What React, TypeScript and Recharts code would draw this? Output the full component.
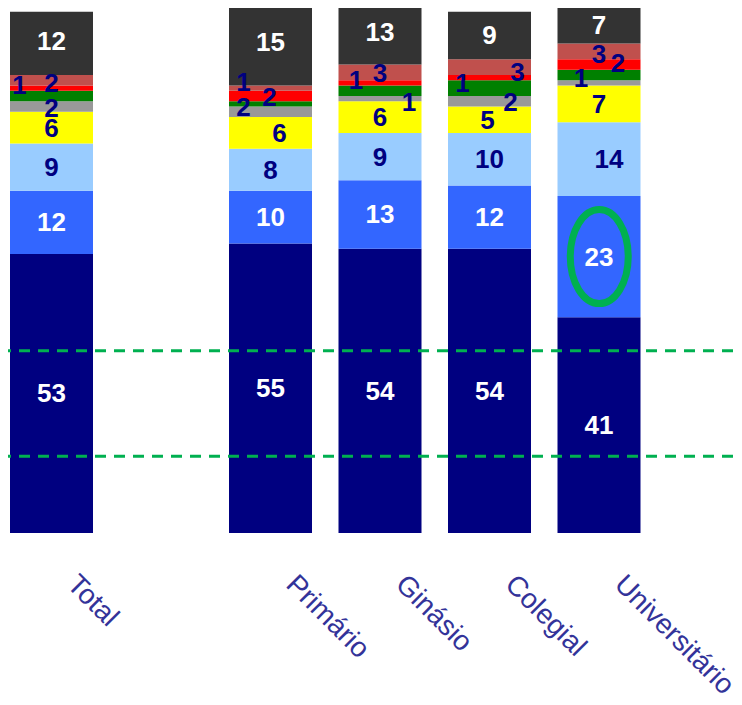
import { Bar, BarChart, LabelList, ReferenceDot, ReferenceLine, XAxis, YAxis } from "recharts";

const categories = ["Total", "", "Primário", "Ginásio", "Colegial", "Universitário"];

// bottom to top of each stack
const navy = [53, null, 55, 54, 54, 41];
const blue = [12, null, 10, 13, 12, 23];
const lightBlue = [9, null, 8, 9, 10, 14];
const yellow = [6, null, 6, 6, 5, 7];
const gray = [2, null, 2, 1, 2, 1];
const green = [2, null, 1, 2, 3, 2];
const red = [1, null, 2, 1, 1, 2];
const rosy = [2, null, 1, 3, 3, 3];
const dark = [12, null, 15, 13, 9, 7];

const bands = [34.6, 14.6];

const series = [
  { key: "navy", values: navy, fill: "#000080", text: "#ffffff", label: true },
  { key: "blue", values: blue, fill: "#3366ff", text: "#ffffff", label: true },
  { key: "lightBlue", values: lightBlue, fill: "#99ccff", text: "#000080", label: true },
  { key: "yellow", values: yellow, fill: "#ffff00", text: "#000080", label: true },
  { key: "gray", values: gray, fill: "#999999", text: "#000080", label: true },
  { key: "green", values: green, fill: "#008000", text: "#000080", label: false },
  { key: "red", values: red, fill: "#ff0000", text: "#000080", label: true },
  { key: "rosy", values: rosy, fill: "#c0504d", text: "#000080", label: true },
  { key: "dark", values: dark, fill: "#333333", text: "#ffffff", label: true },
];

const data = categories.map((name, i) => {
  const row: Record<string, any> = { name };
  series.forEach((s) => (row[s.key] = s.values[i]));
  return row;
});

// small labels were moved by hand in the original slide
const nudges: Record<string, [number, number]> = {
  "red|Total": [-32, -3],
  "rosy|Total": [0, 3],
  "gray|Total": [0, 1],
  "dark|Total": [0, -2],
  "rosy|Primário": [-27, -6],
  "red|Primário": [-1, 1],
  "gray|Primário": [-27, -5],
  "yellow|Primário": [9, 0],
  "dark|Primário": [0, -4],
  "red|Ginásio": [-24, -3],
  "rosy|Ginásio": [0, 1],
  "gray|Ginásio": [29, 3],
  "dark|Ginásio": [0, 2],
  "red|Colegial": [-27, 5],
  "rosy|Colegial": [28, 5],
  "gray|Colegial": [21, 1],
  "yellow|Colegial": [-2, 0],
  "rosy|Universitário": [0, 3],
  "red|Universitário": [19, -1],
  "gray|Universitário": [-18, -5],
  "lightBlue|Universitário": [10, 0],
};

const FONT = "'Liberation Sans', Arial, sans-serif";

function makeLabel(key: string, color: string) {
  return (props: any) => {
    const { x, y, width, height, value } = props;
    const [cat, num] = String(value).split("|");
    if (!num || num === "null" || num === "undefined") return null;
    const [dx, dy] = nudges[`${key}|${cat}`] || [0, 0];
    return (
      <text
        x={Number(x) + Number(width) / 2 + dx}
        y={Number(y) + Number(height) / 2 + dy}
        textAnchor="middle"
        dominantBaseline="central"
        fontFamily={FONT}
        fontWeight="bold"
        fontSize={26}
        fill={color}
      >
        {num}
      </text>
    );
  };
}

function CategoryTick({ x, y, payload }: any) {
  if (!payload.value) return null;
  const tx = x + 14;
  const ty = y + 53;
  return (
    <text
      x={tx}
      y={ty}
      transform={`rotate(45, ${tx}, ${ty})`}
      textAnchor="start"
      fontFamily={FONT}
      fontSize={28}
      fill="#333399"
    >
      {payload.value}
    </text>
  );
}

export default function App() {
  return (
    <div style={{ margin: "-12px 0 0 -8px", width: 742, height: 709 }}>
      <BarChart width={742} height={709} data={data} margin={{ top: 0, right: 0, bottom: 0, left: 0 }}>
        <XAxis
          dataKey="name"
          height={172}
          axisLine={false}
          tickLine={false}
          tickSize={0}
          tickMargin={0}
          interval={0}
          padding={{ left: -3, right: 88 }}
          tick={<CategoryTick />}
        />
        <XAxis xAxisId="lbl" dataKey="name" hide padding={{ left: -3, right: 88 }} />
        <YAxis hide type="number" domain={[0, 102]} />
        {series.map((s) => (
          <Bar key={s.key} dataKey={s.key} stackId="a" fill={s.fill} barSize={83} isAnimationActive={false} />
        ))}
        {series.map((s) => (
          <Bar
            key={`${s.key}-lbl`}
            dataKey={s.key}
            stackId="lbl"
            xAxisId="lbl"
            fill="transparent"
            barSize={83}
            isAnimationActive={false}
          >
            {s.label && (
              <LabelList
                dataKey={(d: any) => `${d.name}|${d[s.key]}`}
                content={makeLabel(s.key, s.text)}
              />
            )}
          </Bar>
        ))}
        {bands.map((v) => (
          <ReferenceLine key={v} y={v} stroke="#00b050" strokeWidth={3} strokeDasharray="11 8" />
        ))}
        <ReferenceDot
          x="Universitário"
          y={41 + 23 / 2}
          r={1}
          shape={(p: any) => (
            <ellipse cx={p.cx} cy={p.cy} rx={29} ry={47} fill="none" stroke="#00b050" strokeWidth={7} />
          )}
        />
      </BarChart>
    </div>
  );
}
